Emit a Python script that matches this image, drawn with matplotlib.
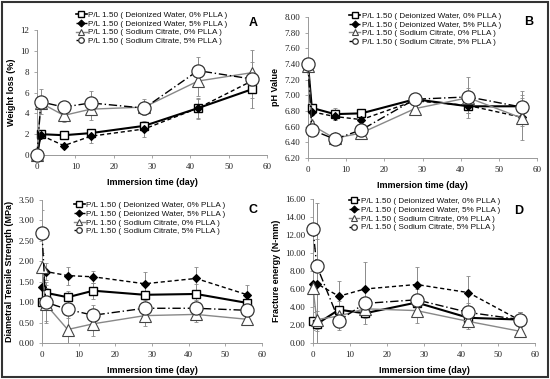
import matplotlib
matplotlib.use("Agg")
import matplotlib.pyplot as plt
from matplotlib.lines import Line2D
from matplotlib.patches import Rectangle

days = [0, 1, 7, 14, 28, 42, 56]
series_labels = [
    "P/L 1.50 ( Deionized Water, 0% PLLA )",
    "P/L 1.50 ( Deionized Water, 5% PLLA )",
    "P/L 1.50 ( Sodium Citrate, 0% PLLA )",
    "P/L 1.50 ( Sodium Citrate, 5% PLLA )",
]

# Panel A: weight loss (%)
wl_di0 = [0.0, 2.0, 1.9, 2.1, 2.8, 4.5, 6.3]
wl_di5 = [0.0, 1.9, 0.9, 1.8, 2.5, 4.5, 7.1]
wl_sc0 = [0.0, 5.0, 3.8, 4.4, 4.6, 7.1, 7.9]
wl_sc5 = [0.0, 5.1, 4.6, 5.0, 4.5, 8.1, 7.3]
wl_di0_err = [0.1, 0.3, 0.3, 0.4, 0.4, 0.9, 0.8]
wl_di5_err = [0.1, 0.3, 0.2, 0.6, 0.8, 1.0, 0.6]
wl_sc0_err = [0.1, 0.5, 0.6, 1.0, 0.8, 1.4, 1.0]
wl_sc5_err = [0.1, 1.2, 0.5, 1.1, 0.5, 1.3, 2.8]

# Panel B: pH value
ph_di0 = [7.40, 6.84, 6.76, 6.77, 6.95, 6.86, 6.86]
ph_di5 = [7.40, 6.79, 6.73, 6.69, 6.93, 6.87, 6.72]
ph_sc0 = [7.38, 6.62, 6.45, 6.52, 6.83, 6.97, 6.71]
ph_sc5 = [7.40, 6.56, 6.44, 6.56, 6.95, 6.98, 6.85]
ph_di0_err = [0.02, 0.03, 0.08, 0.05, 0.05, 0.08, 0.10]
ph_di5_err = [0.02, 0.04, 0.05, 0.05, 0.06, 0.10, 0.29]
ph_sc0_err = [0.02, 0.05, 0.07, 0.05, 0.08, 0.26, 0.10]
ph_sc5_err = [0.02, 0.06, 0.06, 0.06, 0.05, 0.12, 0.20]

# Panel C: diametral tensile strength (MPa)
dts_di0 = [1.00, 1.23, 1.12, 1.28, 1.18, 1.20, 0.98]
dts_di5 = [1.37, 1.75, 1.65, 1.62, 1.45, 1.58, 1.18]
dts_sc0 = [1.85, 0.95, 0.33, 0.47, 0.67, 0.70, 0.58]
dts_sc5 = [2.70, 1.00, 0.82, 0.68, 0.85, 0.85, 0.80]
dts_di0_err = [0.10, 0.20, 0.15, 0.20, 0.25, 0.25, 0.15]
dts_di5_err = [0.25, 0.22, 0.22, 0.15, 0.28, 0.28, 0.25]
dts_sc0_err = [0.35, 0.40, 0.35, 0.30, 0.25, 0.18, 0.10]
dts_sc5_err = [0.55, 0.50, 0.20, 0.25, 0.20, 0.20, 0.15]

# Panel D: fracture energy (N-mm)
fe_di0 = [2.5, 2.1, 3.7, 3.3, 4.5, 2.8, 2.6]
fe_di5 = [6.6, 6.6, 5.2, 6.0, 6.5, 5.6, 2.5]
fe_sc0 = [6.1, 2.6, 3.0, 3.8, 3.6, 2.4, 1.3]
fe_sc5 = [12.7, 8.6, 2.5, 4.4, 4.8, 3.4, 2.6]
fe_di0_err = [1.0, 0.8, 1.0, 1.2, 1.5, 0.8, 0.8]
fe_di5_err = [4.0, 9.0, 1.7, 3.0, 2.0, 1.8, 1.0]
fe_sc0_err = [2.0, 1.0, 1.0, 1.0, 1.4, 0.8, 0.5]
fe_sc5_err = [3.5, 3.0, 1.0, 1.5, 1.5, 1.0, 0.8]

styles = [
    dict(color="black", lw=1.5, ls="-", marker="s", ms=5.5, mfc="white", mec="black", mew=1.0),
    dict(color="black", lw=1.0, ls=(0, (3, 2)), marker="D", ms=3.8, mfc="black", mec="black", mew=0.8),
    dict(color="#888888", lw=1.0, ls="-", marker="^", ms=9, mfc="white", mec="#444444", mew=0.8),
    dict(color="black", lw=1.0, ls=(0, (6, 2, 1, 2)), marker="o", ms=9.5, mfc="white", mec="#333333", mew=0.9),
]
legend_ms = [4, 3.5, 4, 4]

W, H = 550, 379
fig = plt.figure(figsize=(W / 100, H / 100), dpi=100)

def px_axes(l, r, t, b):
    return fig.add_axes([l / W, (H - b) / H, (r - l) / W, (b - t) / H])

tick_font = {"family": "Liberation Serif", "size": 6.5}
label_font = {"family": "Liberation Sans", "size": 6.5, "weight": "bold"}

panels = [
    dict(box=(37, 267, 30, 155), data=[wl_di0, wl_di5, wl_sc0, wl_sc5],
         err=[wl_di0_err, wl_di5_err, wl_sc0_err, wl_sc5_err],
         ylim=(0, 12), yticks=[0, 2, 4, 6, 8, 10, 12], fmt="{:.0f}",
         ylabel="Weight loss (%)", letter="A", letter_pos=(0.94, 1.056),
         leg=(0.17, 1.15)),
    dict(box=(308, 537, 17, 158), data=[ph_di0, ph_di5, ph_sc0, ph_sc5],
         err=[ph_di0_err, ph_di5_err, ph_sc0_err, ph_sc5_err],
         ylim=(6.2, 8.0), yticks=[6.2, 6.4, 6.6, 6.8, 7.0, 7.2, 7.4, 7.6, 7.8, 8.0], fmt="{:.2f}",
         ylabel="pH Value", letter="B", letter_pos=(0.965, 0.965),
         leg=(0.18, 1.035)),
    dict(box=(42, 262, 200, 343), data=[dts_di0, dts_di5, dts_sc0, dts_sc5],
         err=[dts_di0_err, dts_di5_err, dts_sc0_err, dts_sc5_err],
         ylim=(0, 3.5), yticks=[0, 0.5, 1.0, 1.5, 2.0, 2.5, 3.0, 3.5], fmt="{:.2f}",
         ylabel="Diametral Tensile Strength (MPa)", letter="C", letter_pos=(0.96, 0.93),
         leg=(0.145, 0.99)),
    dict(box=(313, 535, 199, 343), data=[fe_di0, fe_di5, fe_sc0, fe_sc5],
         err=[fe_di0_err, fe_di5_err, fe_sc0_err, fe_sc5_err],
         ylim=(0, 16), yticks=[0, 2, 4, 6, 8, 10, 12, 14, 16], fmt="{:.2f}",
         ylabel="Fracture energy (N-mm)", letter="D", letter_pos=(0.925, 0.92),
         leg=(0.16, 1.01)),
]

for p in panels:
    ax = px_axes(*p["box"])
    for ys, es, st in zip(p["data"], p["err"], styles):
        ax.errorbar(days, ys, yerr=es, fmt="none", ecolor="#8a8a8a", elinewidth=0.7,
                    capsize=1.5, capthick=0.6, zorder=1)
        ax.plot(days, ys, zorder=3, clip_on=False, **st)
    ax.set_xlim(0, 60)
    ax.set_ylim(*p["ylim"])
    ax.set_xticks([0, 10, 20, 30, 40, 50, 60])
    ax.set_yticks(p["yticks"])
    ax.set_yticklabels([p["fmt"].format(v) for v in p["yticks"]], fontdict=tick_font)
    ax.set_xticklabels([str(v) for v in [0, 10, 20, 30, 40, 50, 60]], fontdict=tick_font)
    for s in ("top", "right"):
        ax.spines[s].set_visible(False)
    for s in ("left", "bottom"):
        ax.spines[s].set_color("#999999")
        ax.spines[s].set_linewidth(0.7)
    ax.tick_params(axis="both", direction="out", length=2.5, width=0.6, color="#999999",
                   pad=3, labelcolor="#222222")
    ax.set_xlabel("Immersion time (day)", fontdict=label_font, labelpad=5)
    ax.set_ylabel(p["ylabel"], fontdict=label_font, labelpad=3)
    ax.text(p["letter_pos"][0], p["letter_pos"][1], p["letter"], transform=ax.transAxes,
            fontsize=9, fontweight="bold", family="Liberation Sans", ha="center", va="center")
    handles = []
    for st, ms in zip(styles, legend_ms):
        d = dict(st)
        d["ms"] = ms
        d["lw"] = min(st["lw"], 1.2)
        handles.append(Line2D([], [], **d))
    leg = ax.legend(handles, series_labels, loc="upper left", bbox_to_anchor=p["leg"],
                    frameon=False, prop={"family": "Liberation Sans", "size": 5.9},
                    handlelength=1.3, handletextpad=0.2, labelspacing=0.12,
                    borderpad=0.0, borderaxespad=0.0)
    for t in leg.get_texts():
        t.set_color("#111111")

fig.patches.append(Rectangle((0.004, 0.004), 0.992, 0.992, transform=fig.transFigure,
                             fill=False, edgecolor="#333333", linewidth=1.5))

fig.savefig("out.png", dpi=100)
